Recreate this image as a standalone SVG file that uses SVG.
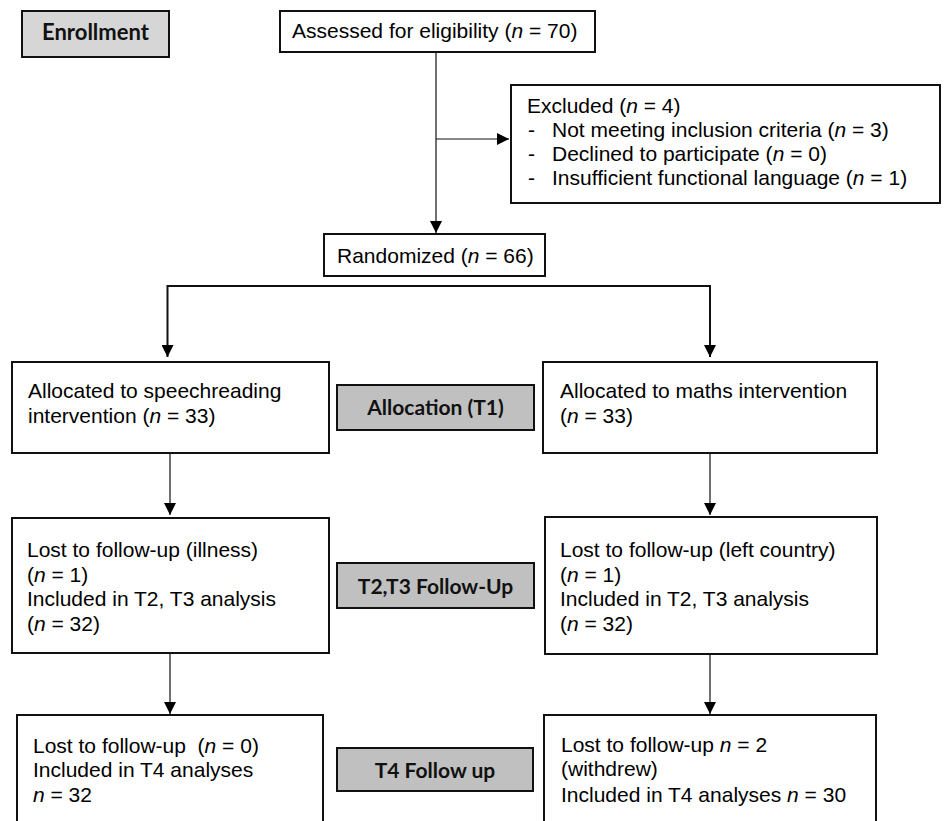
<svg xmlns="http://www.w3.org/2000/svg" width="944" height="821" viewBox="0 0 944 821">
<style>
.box{fill:#fff;stroke:#111;stroke-width:2}
.gbox{fill:#c0c0c0;stroke:#111;stroke-width:2}
.ebox{fill:#d6d6d6;stroke:#111;stroke-width:2}
.t{font-family:"Liberation Sans",Arial,sans-serif;font-size:21px;fill:#000}
.b{font-family:Lato,"Open Sans",sans-serif;font-weight:bold;font-size:21px;fill:#111;text-anchor:middle}
.ln{fill:none;stroke:#111;stroke-width:1.2}
.ln2{fill:none;stroke:#111;stroke-width:2}
.i{font-style:italic}
</style>
<defs>
<marker id="ah" markerUnits="userSpaceOnUse" markerWidth="12" markerHeight="12" refX="12" refY="6" orient="auto">
<path d="M0,0 L12,6 L0,12 z" fill="#000"/>
</marker>
</defs>
<g id="connectors">
<path class="ln" d="M436,52 V233" marker-end="url(#ah)"/>
<path class="ln" d="M436,139 H509" marker-end="url(#ah)"/>
<path class="ln2" d="M440,286 H167.5 V357" marker-end="url(#ah)"/>
<path class="ln2" d="M430,286 H710 V357" marker-end="url(#ah)"/>
<path class="ln" d="M170,453 V515" marker-end="url(#ah)"/>
<path class="ln" d="M710,453 V515" marker-end="url(#ah)"/>
<path class="ln" d="M170,653 V714" marker-end="url(#ah)"/>
<path class="ln" d="M710,654 V714" marker-end="url(#ah)"/>
</g>
<g id="enrollment">
<rect class="ebox" x="22" y="11" width="147" height="46"/>
<text class="b" x="95.5" y="40" style="font-size:22px">Enrollment</text>
</g>
<g id="assessed">
<rect class="box" x="280" y="11" width="315" height="41"/>
<text class="t" x="292" y="38">Assessed for eligibility (<tspan class="i">n</tspan> = 70)</text>
</g>
<g id="excluded">
<rect class="box" x="511" y="85" width="429" height="118"/>
<text class="t" x="527" y="113">Excluded (<tspan class="i">n</tspan> = 4)</text>
<text class="t" x="528" y="137">-</text>
<text class="t" x="552" y="137">Not meeting inclusion criteria (<tspan class="i">n</tspan> = 3)</text>
<text class="t" x="528" y="161">-</text>
<text class="t" x="552" y="161">Declined to participate (<tspan class="i">n</tspan> = 0)</text>
<text class="t" x="528" y="185">-</text>
<text class="t" x="552" y="185">Insufficient functional language (<tspan class="i">n</tspan> = 1)</text>
</g>
<g id="randomized">
<rect class="box" x="324" y="234" width="221" height="42"/>
<text class="t" x="337" y="263">Randomized (<tspan class="i">n</tspan> = 66)</text>
</g>
<g id="alloc-left">
<rect class="box" x="12" y="362" width="317" height="91"/>
<text class="t" x="28" y="398">Allocated to speechreading</text>
<text class="t" x="28" y="423">intervention (<tspan class="i">n</tspan> = 33)</text>
</g>
<g id="alloc-label">
<rect class="gbox" x="337" y="385" width="197" height="45"/>
<text class="b" x="435.5" y="415">Allocation (T1)</text>
</g>
<g id="alloc-right">
<rect class="box" x="543" y="362" width="334" height="91"/>
<text class="t" x="560" y="398">Allocated to maths intervention</text>
<text class="t" x="560" y="423">(<tspan class="i">n</tspan> = 33)</text>
</g>
<g id="fu-left">
<rect class="box" x="12" y="518" width="317" height="135"/>
<text class="t" x="27" y="557">Lost to follow-up (illness)</text>
<text class="t" x="27" y="582">(<tspan class="i">n</tspan> = 1)</text>
<text class="t" x="27" y="606">Included in T2, T3 analysis</text>
<text class="t" x="27" y="631">(<tspan class="i">n</tspan> = 32)</text>
</g>
<g id="fu-label">
<rect class="gbox" x="337" y="563" width="197" height="45"/>
<text class="b" x="435.5" y="594">T2,T3 Follow-Up</text>
</g>
<g id="fu-right">
<rect class="box" x="545" y="517" width="332" height="137"/>
<text class="t" x="560" y="557">Lost to follow-up (left country)</text>
<text class="t" x="560" y="582">(<tspan class="i">n</tspan> = 1)</text>
<text class="t" x="560" y="606">Included in T2, T3 analysis</text>
<text class="t" x="560" y="631">(<tspan class="i">n</tspan> = 32)</text>
</g>
<g id="t4-left">
<rect class="box" x="17" y="715" width="306" height="130"/>
<text class="t" x="33" y="753">Lost to follow-up &#160;(<tspan class="i">n</tspan> = 0)</text>
<text class="t" x="33" y="777">Included in T4 analyses</text>
<text class="t" x="33" y="802"><tspan class="i">n</tspan> = 32</text>
</g>
<g id="t4-label">
<rect class="gbox" x="337" y="748" width="196" height="43"/>
<text class="b" x="435" y="778">T4 Follow up</text>
</g>
<g id="t4-right">
<rect class="box" x="544" y="715" width="332" height="130"/>
<text class="t" x="561" y="752">Lost to follow-up <tspan class="i">n</tspan> = 2</text>
<text class="t" x="561" y="776">(withdrew)</text>
<text class="t" x="561" y="802">Included in T4 analyses <tspan class="i">n</tspan> = 30</text>
</g>
</svg>
